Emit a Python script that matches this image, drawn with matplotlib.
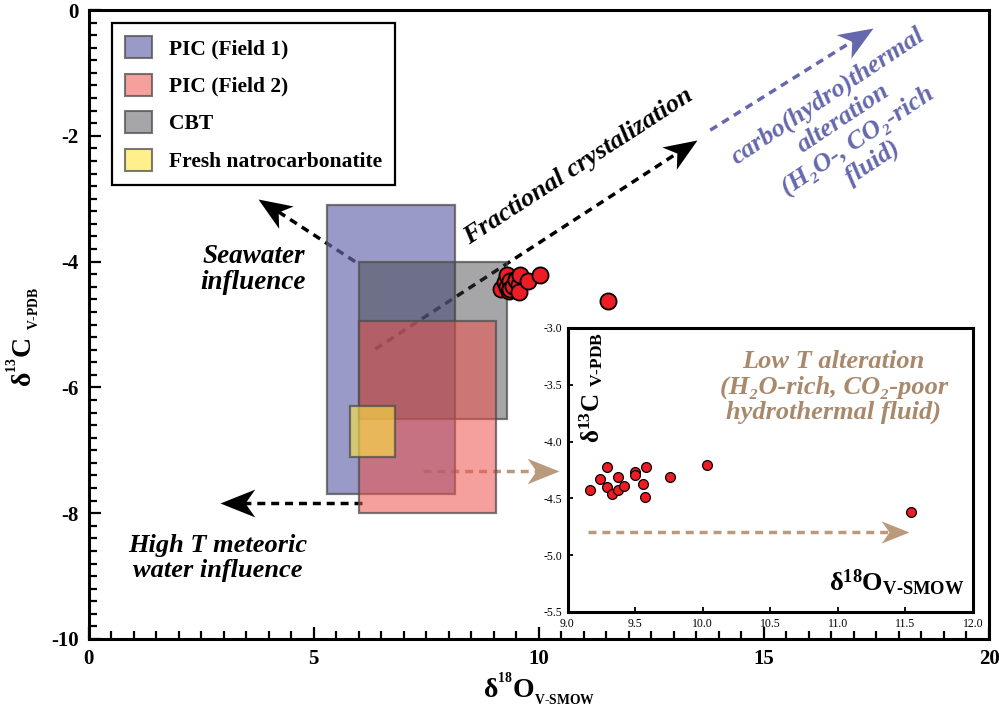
import numpy as np
import matplotlib
matplotlib.use('Agg')
import matplotlib.pyplot as plt
from matplotlib.patches import Patch
from matplotlib.markers import MarkerStyle
from matplotlib.path import Path
from matplotlib.transforms import Affine2D
from matplotlib.colors import to_rgba
from matplotlib.ticker import MultipleLocator

plt.rcParams['font.family'] = ['Liberation Serif', 'DejaVu Serif']
plt.rcParams['font.weight'] = 'bold'
plt.rcParams['axes.unicode_minus'] = False
plt.rcParams['mathtext.fontset'] = 'custom'
plt.rcParams['mathtext.rm'] = 'Liberation Serif:bold'
plt.rcParams['mathtext.bf'] = 'Liberation Serif:bold'
plt.rcParams['mathtext.it'] = 'Liberation Serif:italic:bold'
plt.rcParams['mathtext.default'] = 'bf'

# --- data ---
field_names = ['PIC (Field 1)', 'PIC (Field 2)', 'CBT', 'Fresh natrocarbonatite']
field_o_min = [5.3, 6.0, 6.0, 5.8]
field_o_max = [8.15, 9.05, 9.3, 6.8]
field_c_min = [-7.7, -8.0, -6.5, -7.1]
field_c_max = [-3.1, -4.95, -4.0, -6.3]
field_colors = ['#6a6aae', '#ed524b', '#3a3b3e', '#ffe63f']
field_alpha = [0.68, 0.55, 0.45, 0.6]
draw_order = [0, 2, 1, 3]   # blue, grey, red, yellow

d18O = [9.17, 9.24, 9.29, 9.29, 9.33, 9.37, 9.37, 9.42, 9.50, 9.50,
        9.56, 9.58, 9.57, 9.76, 10.03, 11.54]
d13C = [-4.43, -4.33, -4.22, -4.40, -4.46, -4.31, -4.43, -4.39, -4.27, -4.29,
        -4.37, -4.22, -4.49, -4.31, -4.21, -4.62]

BLUE_TXT = '#6668ad'
TAN = '#b99a7c'
TAN_TXT = '#a8896c'
PT_RED = '#ee1c24'
EDGE = (0.3, 0.3, 0.3, 0.75)

# arrow head: tip at origin, notched back
HEAD = Path([(0, 0), (-1, 0.4), (-0.72, 0), (-1, -0.4), (0, 0)],
            [Path.MOVETO, Path.LINETO, Path.LINETO, Path.LINETO, Path.CLOSEPOLY])


def dashed_arrow(ax, start, tip, color, head=46, lw=2.5, z=1):
    p0 = ax.transData.transform(start)
    p1 = ax.transData.transform(tip)
    d = p1 - p0
    ang = np.degrees(np.arctan2(d[1], d[0]))
    u = d / np.hypot(*d)
    back = 0.5 * head * ax.figure.dpi / 72 * 0.6
    end = ax.transData.inverted().transform(p1 - u * back)
    ax.plot([start[0], end[0]], [start[1], end[1]], color=color, lw=lw,
            ls=(0, (2.3, 1.7)), zorder=z, solid_capstyle='butt')
    m = MarkerStyle(HEAD, transform=Affine2D().rotate_deg(ang))
    ax.plot([tip[0]], [tip[1]], marker=m, ms=head, color=color, mfc=color,
            mec=color, mew=0, ls='none', zorder=z + 0.5)


fig = plt.figure(figsize=(9.99, 7.13), dpi=100)
ax = fig.add_axes([88.5 / 999, 1 - 639 / 713, 900.5 / 999, 629 / 713])
ax.set_xlim(0, 20)
ax.set_ylim(-10, 0)

for k, i in enumerate(draw_order):
    ax.bar(x=field_o_min[i], height=field_c_max[i] - field_c_min[i],
           width=field_o_max[i] - field_o_min[i], bottom=field_c_min[i], align='edge',
           facecolor=to_rgba(field_colors[i], field_alpha[i]), edgecolor=EDGE,
           linewidth=1.6, zorder=2 + 0.1 * k)

ax.scatter(d18O, d13C, s=135, c=PT_RED, edgecolors='black', linewidths=1.3, zorder=5)

# axes styling
ax.set_xticks([0, 5, 10, 15, 20])
ax.set_yticks(np.arange(-10, 1, 2))
ax.xaxis.set_minor_locator(MultipleLocator(0.5))
ax.yaxis.set_minor_locator(MultipleLocator(0.2))
ax.tick_params(which='both', direction='in', top=False, right=False, width=1.6,
               labelsize=15, pad=7)
ax.tick_params(which='major', length=8.5)
ax.tick_params(which='minor', length=5.5)
for s in ax.spines.values():
    s.set_linewidth(2.2)

ax.set_xlabel(r'$\delta^{{}^{18}}O_{{}_{V\text{-}SMOW}}$', fontsize=20)
ax.set_ylabel(r'$\delta^{{}^{13}}C\ _{{}_{V\text{-}PDB}}$', fontsize=20)
ax.xaxis.set_label_coords(0.5, -0.05)
ax.yaxis.set_label_coords(-0.052, 0.48)

handles = [Patch(facecolor=to_rgba(c, a), edgecolor=EDGE, linewidth=1.5, label=n)
           for n, c, a in zip(field_names, field_colors, field_alpha)]
leg = ax.legend(handles=handles, loc='upper left', bbox_to_anchor=(0.026, 0.979),
                borderaxespad=0, prop={'size': 15.5, 'weight': 'bold'}, fancybox=False,
                edgecolor='black', framealpha=1, handlelength=1.25, handleheight=1.2,
                handletextpad=0.8, labelspacing=0.66, borderpad=0.6)
leg.get_frame().set_linewidth(1.6)
leg.set_zorder(10)

# arrows (under the fields)
dashed_arrow(ax, (6.37, -5.39), (13.52, -2.07), 'black', head=48)
dashed_arrow(ax, (13.81, -1.91), (17.43, -0.29), BLUE_TXT, head=50)
dashed_arrow(ax, (5.92, -4.0), (3.77, -3.0), 'black', head=48)
dashed_arrow(ax, (6.08, -7.84), (2.92, -7.84), 'black', head=50)
dashed_arrow(ax, (7.44, -7.33), (10.46, -7.33), TAN, head=46)

# annotations
ax.text(10.88, -2.48, 'Fractional crystalization', rotation=33, rotation_mode='anchor',
        ha='center', va='center', style='italic', fontsize=19, zorder=6)
ax.text(16.92, -1.9, 'carbo(hydro)thermal\nalteration\n(H\u2082O-, CO\u2082-rich\nfluid)',
        rotation=33.7, rotation_mode='anchor', ha='center', va='center',
        multialignment='center', style='italic', fontsize=19, color=BLUE_TXT,
        linespacing=1.2, zorder=6)
ax.text(3.66, -4.12, 'Seawater\ninfluence', ha='center', va='center',
        style='italic', fontsize=19.5, linespacing=1.05, zorder=6)
ax.text(2.88, -8.71, 'High T meteoric\nwater influence', ha='center', va='center',
        style='italic', fontsize=19, linespacing=1.1, zorder=6)

# --- inset ---
axins = fig.add_axes([567.5 / 999, 1 - 612 / 713, 405.5 / 999, 284 / 713])
axins.set_zorder(8)
axins.set_xlim(9, 12)
axins.set_ylim(-5.5, -3.0)
axins.set_xticks(np.arange(9, 12.01, 0.5))
axins.set_yticks(np.arange(-5.5, -2.99, 0.5))
axins.tick_params(direction='in', length=3.5, width=1.3, labelsize=8.5, pad=4)
plt.setp(axins.get_xticklabels() + axins.get_yticklabels(), fontweight='normal')
for s in axins.spines.values():
    s.set_linewidth(2.2)

axins.scatter(d18O, d13C, s=50, c=PT_RED, edgecolors='black', linewidths=0.9, zorder=5)
dashed_arrow(axins, (9.15, -4.80), (11.53, -4.80), TAN, head=40)

axins.text(10.97, -3.52, 'Low T alteration\n(H\u2082O-rich, CO\u2082-poor\nhydrothermal fluid)',
           ha='center', va='center', style='italic', fontsize=19, color=TAN_TXT,
           linespacing=1.1, zorder=6)
axins.text(0.058, 0.985, r'$\delta^{13}C\ _{V\text{-}PDB}$', rotation=90,
           transform=axins.transAxes, ha='center', va='top', fontsize=18)
axins.text(0.98, 0.05, r'$\delta^{18}O_{V\text{-}SMOW}$', transform=axins.transAxes,
           ha='right', va='bottom', fontsize=19)

fig.savefig('out.png', dpi=100)
